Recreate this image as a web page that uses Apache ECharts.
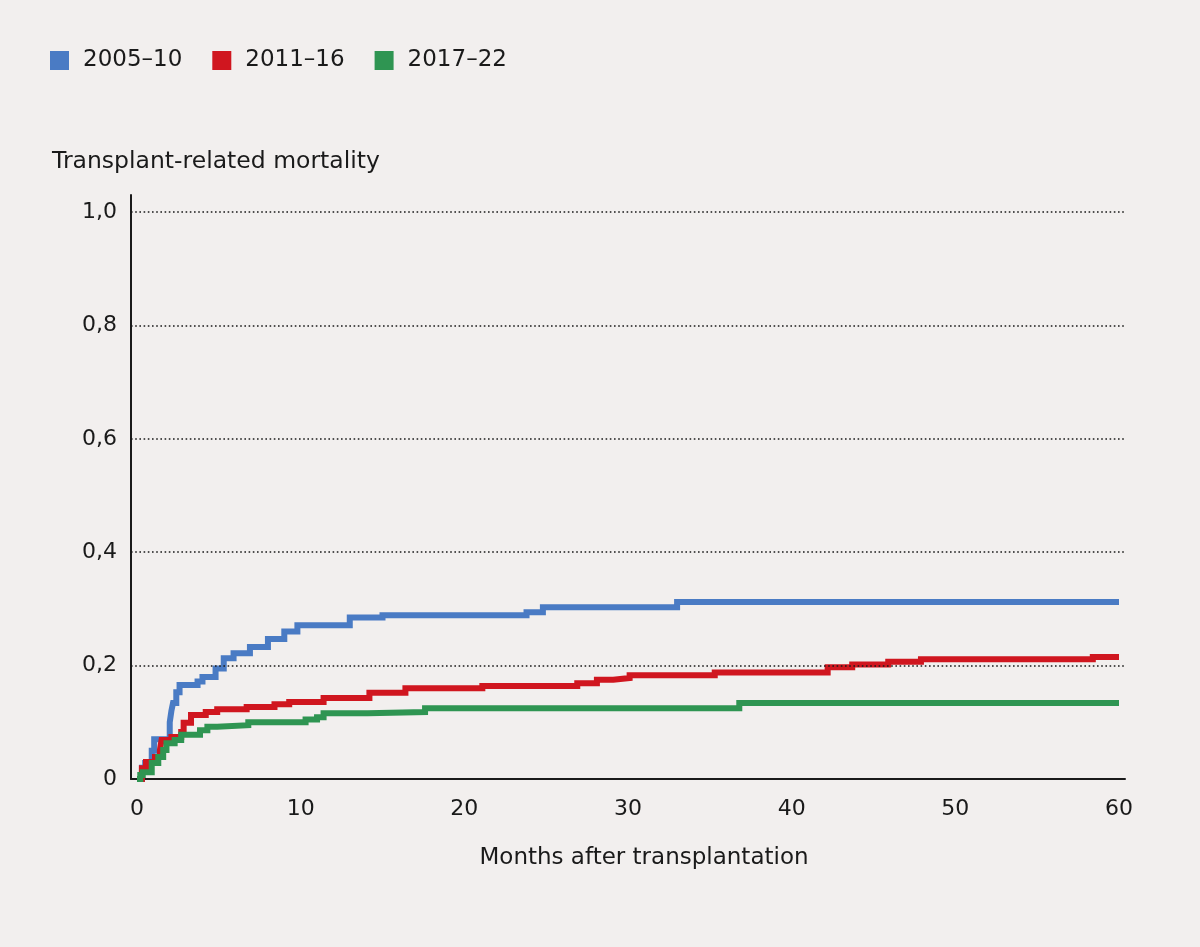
<!DOCTYPE html>
<html>
<head>
<meta charset="utf-8">
<script src="https://cdn.jsdelivr.net/npm/echarts@6/dist/echarts.min.js"></script>
<style>
html,body{margin:0;padding:0;background:#f2efee;}
#chart{width:1200px;height:947px;}
</style>
</head>
<body>
<div id="chart"></div>
<script>
// ---- data ----
const seriesNames = ['2005–10', '2011–16', '2017–22'];
const seriesColors = ['#4a7bc4', '#d0161f', '#2f9552'];

const blueX = [0, 0.3, 0.5, 0.9, 1.05, 2.0, 2.1, 2.2, 2.4, 2.6, 3.7, 4.0, 4.8, 5.3, 5.9, 6.9, 8.0, 9.0, 9.8, 13.0, 15.0, 23.8, 24.8, 33.0, 60];
const blueY = [0, 0.02, 0.028, 0.05, 0.07, 0.1, 0.12, 0.134, 0.153, 0.166, 0.172, 0.18, 0.195, 0.213, 0.222, 0.233, 0.247, 0.26, 0.271, 0.285, 0.289, 0.294, 0.303, 0.312, 0.312];

const redX = [0, 0.3, 0.55, 1.1, 1.4, 1.5, 2.1, 2.7, 2.85, 3.3, 4.2, 4.9, 6.7, 8.4, 9.3, 11.4, 14.2, 16.4, 21.1, 26.9, 28.1, 29.1, 30.1, 35.3, 42.2, 43.7, 45.9, 47.9, 58.4, 60];
const redY = [0, 0.019, 0.03, 0.039, 0.051, 0.069, 0.074, 0.083, 0.099, 0.113, 0.118, 0.123, 0.127, 0.132, 0.136, 0.143, 0.152, 0.16, 0.164, 0.169, 0.175, 0.178, 0.183, 0.188, 0.197, 0.202, 0.207, 0.211, 0.215, 0.215];

const greenX = [0, 0.2, 0.35, 0.9, 1.3, 1.6, 1.8, 2.3, 2.7, 3.85, 4.3, 4.9, 6.8, 10.3, 11.0, 11.4, 14.1, 17.6, 36.8, 60];
const greenY = [0, 0.007, 0.012, 0.028, 0.039, 0.051, 0.063, 0.069, 0.078, 0.086, 0.092, 0.095, 0.1, 0.105, 0.109, 0.116, 0.118, 0.125, 0.134, 0.134];

const xTicks = [0, 10, 20, 30, 40, 50, 60];
const yTicks = [0, 0.2, 0.4, 0.6, 0.8, 1.0];
const yGridValues = [0.2, 0.4, 0.6, 0.8, 1.0];

const titleText = 'Transplant-related mortality';
const xAxisTitle = 'Months after transplantation';

// ---- chart ----
const FONT = '"DejaVu Sans", "Liberation Sans", sans-serif';
const INK = '#1a1a1a';
const zip = (xs, ys) => xs.map((x, i) => [x, ys[i]]);
const allData = [zip(blueX, blueY), zip(redX, redY), zip(greenX, greenY)];

const chart = echarts.init(document.getElementById('chart'), null, {renderer: 'canvas'});

const series = allData.map((d, i) => ({
  name: seriesNames[i],
  type: 'line',
  step: 'end',
  data: d,
  showSymbol: false,
  symbol: 'none',
  lineStyle: {color: seriesColors[i], width: 6, join: 'miter'},
  itemStyle: {color: seriesColors[i]},
  z: 3 + i,
  animation: false
}));

series.unshift({
  name: 'grid',
  type: 'line',
  data: [],
  silent: true,
  z: 1,
  markLine: {
    silent: true,
    symbol: ['none', 'none'],
    label: {show: false},
    animation: false,
    lineStyle: {color: INK, width: 1.6, type: [1.6, 2.6]},
    data: yGridValues.map(v => ({yAxis: v}))
  }
});

chart.setOption({
  backgroundColor: '#f2efee',
  animation: false,
  textStyle: {fontFamily: FONT},
  title: {
    text: titleText,
    left: 47,
    top: 145,
    textStyle: {fontFamily: FONT, fontSize: 23.5, fontWeight: 'normal', color: INK}
  },
  legend: {
    data: seriesNames,
    left: 45,
    top: 44,
    icon: 'rect',
    itemWidth: 19,
    itemHeight: 19,
    itemGap: 30,
    textStyle: {fontFamily: FONT, fontSize: 23, color: INK, padding: [0, 0, 0, 9]}
  },
  grid: {left: 131, right: 75, top: 195, bottom: 168, containLabel: false},
  xAxis: {
    type: 'value',
    min: -0.367,
    max: 60.367,
    splitLine: {show: false},
    axisTick: {show: false},
    axisLine: {show: true, onZero: false, lineStyle: {color: INK, width: 2}},
    axisLabel: {
      customValues: xTicks,
      margin: 19,
      fontFamily: FONT,
      fontSize: 22,
      color: INK
    },
    name: xAxisTitle,
    nameLocation: 'middle',
    nameGap: 68,
    nameTextStyle: {fontFamily: FONT, fontSize: 23, color: INK, padding: [0, 0, 0, 32]}
  },
  yAxis: {
    type: 'value',
    min: 0,
    max: 1.03,
    splitLine: {show: false},
    axisTick: {show: false},
    axisLine: {show: true, onZero: false, lineStyle: {color: INK, width: 2}},
    axisLabel: {
      customValues: yTicks,
      margin: 14,
      fontFamily: FONT,
      fontSize: 22,
      color: INK,
      formatter: v => (v === 0 ? '0' : v.toFixed(1).replace('.', ','))
    }
  },
  series: series
});
</script>
</body>
</html>
